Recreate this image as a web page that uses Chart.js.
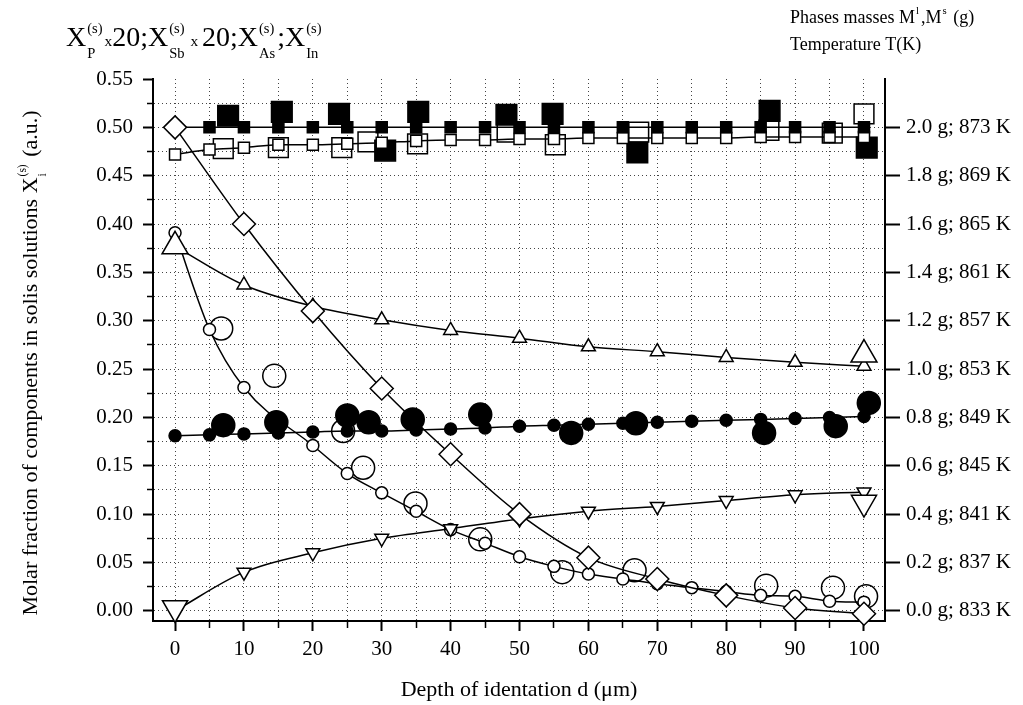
<!DOCTYPE html>
<html>
<head>
<meta charset="utf-8">
<script src="https://cdn.jsdelivr.net/npm/chart.js@4.4.0/dist/chart.umd.min.js"></script>
<style>
  html, body { margin: 0; padding: 0; background: #fff; }
  #wrap { position: relative; width: 1023px; height: 705px; }
</style>
</head>
<body>
<div id="wrap"><canvas id="chart"></canvas></div>
<script>
// depth of indentation d (µm)
const depthFine = [0, 5, 10, 15, 20, 25, 30, 35, 40, 45, 50, 55, 60, 65, 70, 75, 80, 85, 90, 95, 100];
const depthCoarse = [0, 10, 20, 30, 40, 50, 60, 70, 80, 90, 100];
const openCircleDepth = [0, 5, 10, 20, 25, 30, 35, 40, 45, 50, 55, 60, 65, 70, 75, 80, 85, 90, 95, 100];

// calculated curves (small markers joined by lines)
const filledSquareY = [0.500, 0.500, 0.500, 0.500, 0.500, 0.500, 0.500, 0.500, 0.500, 0.500, 0.500,
                       0.500, 0.500, 0.500, 0.500, 0.500, 0.500, 0.500, 0.500, 0.500, 0.500];
const openSquareY = [0.472, 0.477, 0.479, 0.482, 0.482, 0.483, 0.484, 0.486, 0.487, 0.487, 0.488,
                     0.488, 0.489, 0.489, 0.489, 0.489, 0.489, 0.490, 0.490, 0.490, 0.490];
const diamondY = [0.500, 0.400, 0.310, 0.230, 0.162, 0.100, 0.055, 0.033, 0.016, 0.003, -0.003];
const triUpY = [0.377, 0.337, 0.315, 0.301, 0.290, 0.282, 0.273, 0.268, 0.262, 0.257, 0.253];
const triDownY = [0.000, 0.040, 0.060, 0.075, 0.085, 0.095, 0.103, 0.108, 0.114, 0.120, 0.123];
const openCircleY = [0.391, 0.291, 0.231, 0.171, 0.142, 0.122, 0.103, 0.084, 0.070, 0.056,
                     0.046, 0.038, 0.033, 0.028, 0.024, 0.020, 0.016, 0.015, 0.010, 0.009];
const filledCircleY = [0.181, 0.182, 0.183, 0.184, 0.185, 0.186, 0.186, 0.187, 0.188, 0.189, 0.191,
                       0.192, 0.193, 0.194, 0.195, 0.196, 0.197, 0.198, 0.199, 0.200, 0.201];

// measured points (large markers)
const bigFilledSquareX = [7.7, 15.5, 23.8, 30.5, 35.3, 48.1, 54.8, 67.1, 86.3, 100.4];
const bigFilledSquareY = [0.512, 0.516, 0.514, 0.476, 0.516, 0.513, 0.514, 0.474, 0.517, 0.479];
const bigOpenSquareX = [7.0, 15.0, 24.2, 28.0, 35.2, 48.2, 55.2, 67.3, 86.2, 95.4, 100.0];
const bigOpenSquareY = [0.478, 0.479, 0.479, 0.485, 0.483, 0.495, 0.482, 0.495, 0.497, 0.494, 0.514];
const bigTriUpX = [0, 100];
const bigTriUpY = [0.377, 0.265];
const bigTriDownX = [0, 100];
const bigTriDownY = [0.003, 0.112];
const bigOpenCircleX = [6.7, 14.4, 24.4, 27.3, 34.9, 44.3, 56.2, 66.7, 85.8, 95.5, 100.3];
const bigOpenCircleY = [0.292, 0.243, 0.186, 0.148, 0.111, 0.074, 0.040, 0.042, 0.026, 0.024, 0.015];
const bigFilledCircleX = [7.0, 14.7, 25.0, 28.1, 34.5, 44.3, 57.5, 66.9, 85.5, 95.9, 100.7];
const bigFilledCircleY = [0.192, 0.195, 0.202, 0.195, 0.198, 0.203, 0.184, 0.194, 0.184, 0.191, 0.215];

const SERIF = '"Liberation Serif", "Times New Roman", serif';
Chart.defaults.font.family = SERIF;
Chart.defaults.font.size = 21;
Chart.defaults.color = '#000';

function pts(xs, ys) {
    return xs.map((x, i) => ({ x: x, y: ys[i] }));
}

function curve(xs, ys, shape, radius, fill, extra) {
    return Object.assign({
        data: pts(xs, ys),
        showLine: true,
        borderColor: '#000',
        borderWidth: 1.5,
        cubicInterpolationMode: 'monotone',
        pointStyle: shape,
        pointRadius: radius,
        pointBorderWidth: 1.5,
        pointBorderColor: '#000',
        pointBackgroundColor: fill,
        clip: false
    }, extra || {});
}

function marks(xs, ys, shape, radius, fill, extra) {
    return Object.assign({
        data: pts(xs, ys),
        showLine: false,
        pointStyle: shape,
        pointRadius: radius,
        pointBorderWidth: 1.5,
        pointBorderColor: '#000',
        pointBackgroundColor: fill,
        clip: false
    }, extra || {});
}

const isMajorX = v => Math.abs(v / 10 - Math.round(v / 10)) < 1e-6;
const isMajorY = v => Math.abs(v / 0.05 - Math.round(v / 0.05)) < 1e-6;

// text with stacked super/subscripts, drawn as runs
function drawRuns(ctx, runs, x, y, size, draw = true) {
    let cx = x;
    for (const r of runs) {
        if (typeof r === 'string') {
            ctx.font = size + 'px ' + SERIF;
            if (draw) ctx.fillText(r, cx, y);
            cx += ctx.measureText(r).width;
        } else if (r.small) {
            ctx.font = (size * 0.55) + 'px ' + SERIF;
            if (draw) ctx.fillText(r.small, cx, y);
            cx += ctx.measureText(r.small).width;
        } else {
            const s = size * (r.scale || 0.52);
            ctx.font = s + 'px ' + SERIF;
            const wUp = r.sup ? ctx.measureText(r.sup).width : 0;
            const wDn = r.sub ? ctx.measureText(r.sub).width : 0;
            if (draw && r.sup) ctx.fillText(r.sup, cx + 1, y - size * 0.48);
            if (draw && r.sub) ctx.fillText(r.sub, cx + 1, y + size * 0.42);
            cx += Math.max(wUp, wDn) + 3;
        }
    }
    return cx - x;
}

const topLeftRuns = ['X', { sup: '(s)', sub: 'P' }, { small: 'x' }, '20;X', { sup: '(s)', sub: 'Sb' },
                     { small: ' x ' }, '20;X', { sup: '(s)', sub: 'As' }, ';X', { sup: '(s)', sub: 'In' }];
const massRuns = ['Phases masses M', { sup: 'l', scale: 0.6 }, ',M', { sup: 's', scale: 0.6 }, ' (g)'];
const tempRuns = ['Temperature T(K)'];
const yTitleRuns = ['Molar fraction of components in solis solutions X', { sup: '(s)', sub: 'i' }, ' (a.u.)'];

const textPlugin = {
    id: 'axisTexts',
    afterDraw(chart) {
        const ctx = chart.ctx;
        ctx.save();
        ctx.fillStyle = '#000';
        ctx.textAlign = 'left';
        ctx.textBaseline = 'alphabetic';
        drawRuns(ctx, topLeftRuns, 66, 46, 28);
        drawRuns(ctx, massRuns, 790, 23, 18);
        drawRuns(ctx, tempRuns, 790, 50, 18);

        ctx.font = '22px ' + SERIF;
        ctx.textAlign = 'center';
        ctx.textBaseline = 'middle';
        ctx.fillText('Depth of identation d (\u03bcm)', (chart.chartArea.left + chart.chartArea.right) / 2, 690);

        ctx.textAlign = 'left';
        ctx.textBaseline = 'alphabetic';
        ctx.translate(37, 363);
        ctx.rotate(-Math.PI / 2);
        const w = drawRuns(ctx, yTitleRuns, 0, 0, 22, false);
        drawRuns(ctx, yTitleRuns, -w / 2, 0, 22);
        ctx.restore();
    }
};

// lower order is painted on top
const datasets = [
    marks(bigTriUpX, bigTriUpY, 'triangle', 15, '#fff', { order: 0 }),
    marks(bigTriDownX, bigTriDownY, 'triangle', 14.5, '#fff', { order: 1, rotation: 180 }),
    curve(depthCoarse, diamondY, 'rectRot', 11.5, '#fff', { order: 2 }),
    curve(depthFine, filledSquareY, 'rect', 7.8, '#000', { order: 3, cubicInterpolationMode: 'default', tension: 0 }),
    curve(depthFine, openSquareY, 'rect', 7.8, '#fff', { order: 4 }),
    curve(depthCoarse, triUpY, 'triangle', 8, '#fff', { order: 5 }),
    curve(depthCoarse, triDownY, 'triangle', 8, '#fff', { order: 6, rotation: 180 }),
    curve(openCircleDepth, openCircleY, 'circle', 6, '#fff', { order: 7 }),
    curve(depthFine, filledCircleY, 'circle', 6, '#000', { order: 8 }),
    marks(bigFilledSquareX, bigFilledSquareY, 'rect', 14.6, '#000', { order: 9 }),
    marks(bigOpenSquareX, bigOpenSquareY, 'rect', 14, 'rgba(0,0,0,0)', { order: 10 }),
    marks(bigFilledCircleX, bigFilledCircleY, 'circle', 11.5, '#000', { order: 11 }),
    marks(bigOpenCircleX, bigOpenCircleY, 'circle', 11.5, 'rgba(0,0,0,0)', { order: 12 })
];

new Chart(document.getElementById('chart'), {
    type: 'scatter',
    data: { datasets: datasets },
    plugins: [textPlugin],
    options: {
        responsive: true,
        maintainAspectRatio: false,
        animation: false,
        devicePixelRatio: 1,
        layout: { padding: { top: 79, left: 0, right: 0, bottom: 0 } },
        plugins: { legend: { display: false }, tooltip: { enabled: false } },
        elements: { point: { hoverRadius: 0 } },
        scales: {
            x: {
                type: 'linear',
                position: 'bottom',
                min: -3.2,
                max: 103.05,
                afterFit: s => { s.height = 84; },
                ticks: {
                    stepSize: 5,
                    includeBounds: false,
                    autoSkip: false,
                    maxRotation: 0,
                    padding: 6,
                    callback: v => isMajorX(v) ? String(v) : ''
                },
                grid: {
                    color: '#444',
                    lineWidth: 1,
                    tickLength: 10,
                    tickColor: '#000',
                    tickWidth: c => isMajorX(c.tick.value) ? 2 : 1.5,
                    tickBorderDash: c => isMajorX(c.tick.value) ? [] : [6, 20]
                },
                border: { display: true, color: '#000', width: 2, dash: [1, 3] }
            },
            y: {
                type: 'linear',
                position: 'left',
                min: -0.0105,
                max: 0.55,
                afterFit: s => { s.width = 153; },
                ticks: {
                    stepSize: 0.025,
                    includeBounds: false,
                    autoSkip: false,
                    padding: 10,
                    callback: v => isMajorY(v) ? v.toFixed(2) : ''
                },
                grid: {
                    color: c => (c.tick && c.tick.value > 0.54) ? 'rgba(0,0,0,0)' : '#444',
                    lineWidth: 1,
                    tickLength: 10,
                    tickColor: '#000',
                    tickWidth: c => isMajorY(c.tick.value) ? 2 : 1.5,
                    tickBorderDash: c => isMajorY(c.tick.value) ? [] : [0, 4, 10]
                },
                border: { display: true, color: '#000', width: 2, dash: [1, 3] }
            },
            y2: {
                type: 'linear',
                position: 'right',
                min: -0.0105,
                max: 0.55,
                afterFit: s => { s.width = 138; },
                afterBuildTicks: s => { s.ticks = s.ticks.filter(t => t.value <= 0.5 + 1e-9); },
                ticks: {
                    stepSize: 0.05,
                    includeBounds: false,
                    autoSkip: false,
                    padding: 6,
                    callback: v => (v * 4).toFixed(1) + ' g; ' + Math.round(833 + v * 80) + ' K'
                },
                grid: {
                    drawOnChartArea: false,
                    tickLength: 15,
                    tickColor: '#000',
                    tickWidth: 2
                },
                border: { display: true, color: '#000', width: 2 }
            }
        }
    }
});
</script>
</body>
</html>
